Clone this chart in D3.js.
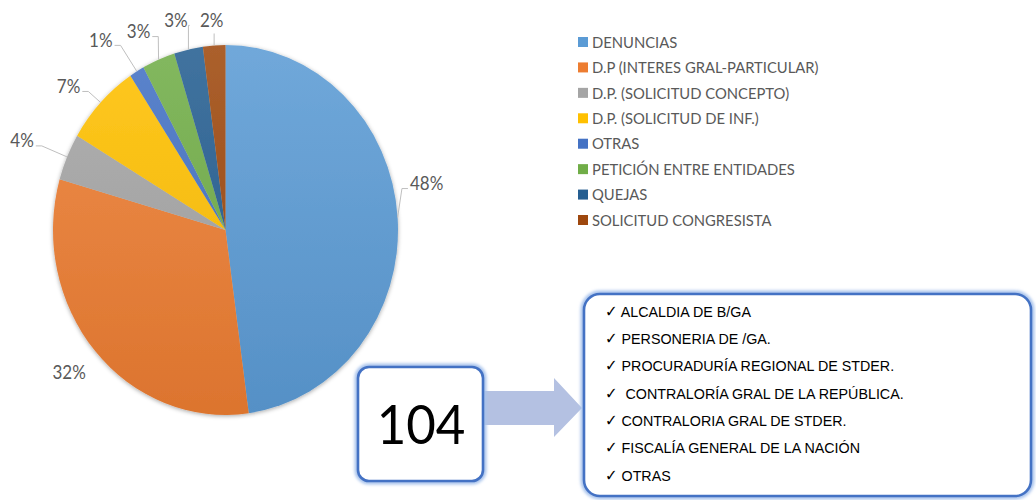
<!DOCTYPE html>
<html>
<head>
<meta charset="utf-8">
<script src="https://cdn.jsdelivr.net/npm/d3@7"></script>
<style>
  html, body { margin: 0; padding: 0; background: #fff; }
  svg { display: block; }
</style>
</head>
<body>
<svg id="chart" width="1036" height="500"></svg>
<script>
// ---- data ----
const categories = [
  "DENUNCIAS",
  "D.P (INTERES GRAL-PARTICULAR)",
  "D.P. (SOLICITUD CONCEPTO)",
  "D.P. (SOLICITUD DE INF.)",
  "OTRAS",
  "PETICIÓN ENTRE ENTIDADES",
  "QUEJAS",
  "SOLICITUD CONGRESISTA"
];
const shares = [47.9, 31.6, 4.1, 7.2, 1.4, 3.1, 2.7, 2.1];
const sliceColors = ["#5B9BD5", "#ED7D31", "#A5A5A5", "#FFC000", "#4472C4", "#70AD47", "#255E91", "#9E480E"];

const forwardedTotal = 104;
const entities = [
  "ALCALDIA DE B/GA",
  "PERSONERIA DE /GA.",
  "PROCURADURÍA REGIONAL DE STDER.",
  " CONTRALORÍA GRAL DE LA REPÚBLICA.",
  "CONTRALORIA GRAL DE STDER.",
  "FISCALÍA GENERAL DE LA NACIÓN",
  "OTRAS"
];

// label placement relative to each slice's outer edge point
const labelLayout = [
  { dx: 29,   dy: -34, leader: true },
  { dx: -26,  dy: 21,  leader: false },
  { dx: -45,  dy: -16, leader: true },
  { dx: -32,  dy: -16, leader: true },
  { dx: -36,  dy: -31, leader: true },
  { dx: -20,  dy: -28, leader: true },
  { dx: -12.5,dy: -29, leader: true },
  { dx: -2.5, dy: -25, leader: true }
];

// ---- layout ----
const SY = 1.072;            // vertical stretch of the whole drawing
const cx = 225.5, cy = 230;
const rx = 172.5, ry = rx * SY;

const svg = d3.select("#chart");
const defs = svg.append("defs");

function stretchedText(sel, x, y) {
  return sel.attr("transform", `translate(${x},${y}) scale(1,${SY})`);
}

// shadow under the pie
const shadow = defs.append("filter").attr("id", "pieShadow")
  .attr("x", "-10%").attr("y", "-10%").attr("width", "120%").attr("height", "120%");
shadow.append("feDropShadow").attr("dx", 0).attr("dy", 1).attr("stdDeviation", 2)
  .attr("flood-color", "#000").attr("flood-opacity", 0.35);

// glow around the boxes
const glow = defs.append("filter").attr("id", "boxGlow")
  .attr("x", "-10%").attr("y", "-10%").attr("width", "120%").attr("height", "120%");
glow.append("feGaussianBlur").attr("stdDeviation", 1.6);

// per-slice vertical gradients
sliceColors.forEach((c, i) => {
  const g = defs.append("linearGradient").attr("id", "grad" + i)
    .attr("gradientUnits", "userSpaceOnUse")
    .attr("x1", 0).attr("y1", -rx).attr("x2", 0).attr("y2", rx);
  g.append("stop").attr("offset", "0%").attr("stop-color", d3.interpolateRgb(c, "#ffffff")(0.13));
  g.append("stop").attr("offset", "100%").attr("stop-color", d3.interpolateRgb(c, "#000000")(0.07));
});

// ---- pie ----
const pie = d3.pie().sort(null).value(d => d)(shares);
const total = d3.sum(shares);
const arc = d3.arc().innerRadius(0).outerRadius(rx);

const pieG = svg.append("g")
  .attr("transform", `translate(${cx},${cy}) scale(1,${SY})`)
  .attr("filter", "url(#pieShadow)");
pieG.selectAll("path.slice").data(pie).join("path")
  .attr("class", "slice")
  .attr("d", arc)
  .attr("fill", (d, i) => `url(#grad${i})`);

// ---- percentage labels with leader lines ----
const pctFmt = v => Math.round(v / total * 100) + "%";
const labelG = svg.append("g");
pie.forEach((d, i) => {
  const a = (d.startAngle + d.endAngle) / 2;
  const ax = cx + rx * Math.sin(a), ay = cy - ry * Math.cos(a);
  const lay = labelLayout[i];
  const lx = ax + lay.dx, ly = ay + lay.dy;
  const t = stretchedText(labelG.append("text"), lx, ly)
    .attr("text-anchor", "middle").attr("dy", "0.36em")
    .attr("font-family", "Lato, 'DejaVu Sans', sans-serif")
    .attr("font-size", 17).attr("fill", "#595959")
    .text(pctFmt(d.data));
  if (!lay.leader) return;
  const w = t.node().getComputedTextLength();
  const left = lx - w / 2, right = lx + w / 2, yy = ly + 5;
  let pts;
  if (ax < left) pts = [[left - 2, yy], [Math.max(left - 8, ax), yy], [ax, ay]];
  else if (ax > right) pts = [[right + 2, yy], [Math.min(right + 8, ax), yy], [ax, ay]];
  else pts = [[ax, ly + 13], [ax, ay]];
  labelG.insert("path", "text")
    .attr("d", d3.line()(pts))
    .attr("fill", "none").attr("stroke", "#bfbfbf").attr("stroke-width", 1);
});

// ---- legend ----
const legend = svg.append("g");
const legY = d3.scalePoint().domain(categories).range([42, 220]);
categories.forEach((c, i) => {
  legend.append("rect")
    .attr("x", 578).attr("y", legY(c) - 5).attr("width", 10).attr("height", 10)
    .attr("fill", sliceColors[i]);
  stretchedText(legend.append("text"), 592, legY(c))
    .attr("dy", "0.36em")
    .attr("font-family", "Lato, 'DejaVu Sans', sans-serif")
    .attr("font-size", 14.8).attr("fill", "#595959")
    .text(c);
});

// ---- rounded boxes ----
function glowBox(x, y, w, h, r) {
  const g = svg.append("g");
  g.append("rect").attr("x", x).attr("y", y).attr("width", w).attr("height", h).attr("rx", r)
    .attr("fill", "none").attr("stroke", "#a8c3ec").attr("stroke-width", 7)
    .attr("filter", "url(#boxGlow)");
  g.append("rect").attr("x", x).attr("y", y).attr("width", w).attr("height", h).attr("rx", r)
    .attr("fill", "#fff").attr("stroke", "#4472C4").attr("stroke-width", 2.6);
  return g;
}

// arrow between the boxes
const arrowX0 = 484, arrowX1 = 582, arrowY = 408;
svg.append("path")
  .attr("d", d3.line()([
    [arrowX0, arrowY - 17], [arrowX1 - 28, arrowY - 17], [arrowX1 - 28, arrowY - 30],
    [arrowX1, arrowY], [arrowX1 - 28, arrowY + 29], [arrowX1 - 28, arrowY + 17],
    [arrowX0, arrowY + 17]
  ]) + "Z")
  .attr("fill", "#B4C1E2");

glowBox(358, 367, 125, 114, 11);
stretchedText(svg.append("text"), 421, 424)
  .attr("text-anchor", "middle").attr("dy", "0.36em")
  .attr("font-family", "Lato, 'DejaVu Sans', sans-serif")
  .attr("font-size", 51).attr("fill", "#000")
  .text(forwardedTotal);

glowBox(584, 294, 447, 202, 16);
const listY = d3.scalePoint().domain(d3.range(entities.length)).range([311, 475]);
entities.forEach((e, i) => {
  const t = stretchedText(svg.append("text"), 605, listY(i))
    .attr("dy", "0.36em")
    .attr("font-family", "'Liberation Sans', Arial, sans-serif")
    .attr("font-size", 14.3).attr("fill", "#000")
    .attr("xml:space", "preserve");
  t.append("tspan").attr("font-family", "'DejaVu Sans', sans-serif").attr("font-size", 15).text("✓");
  t.append("tspan").text(" " + e);
});
</script>
</body>
</html>
